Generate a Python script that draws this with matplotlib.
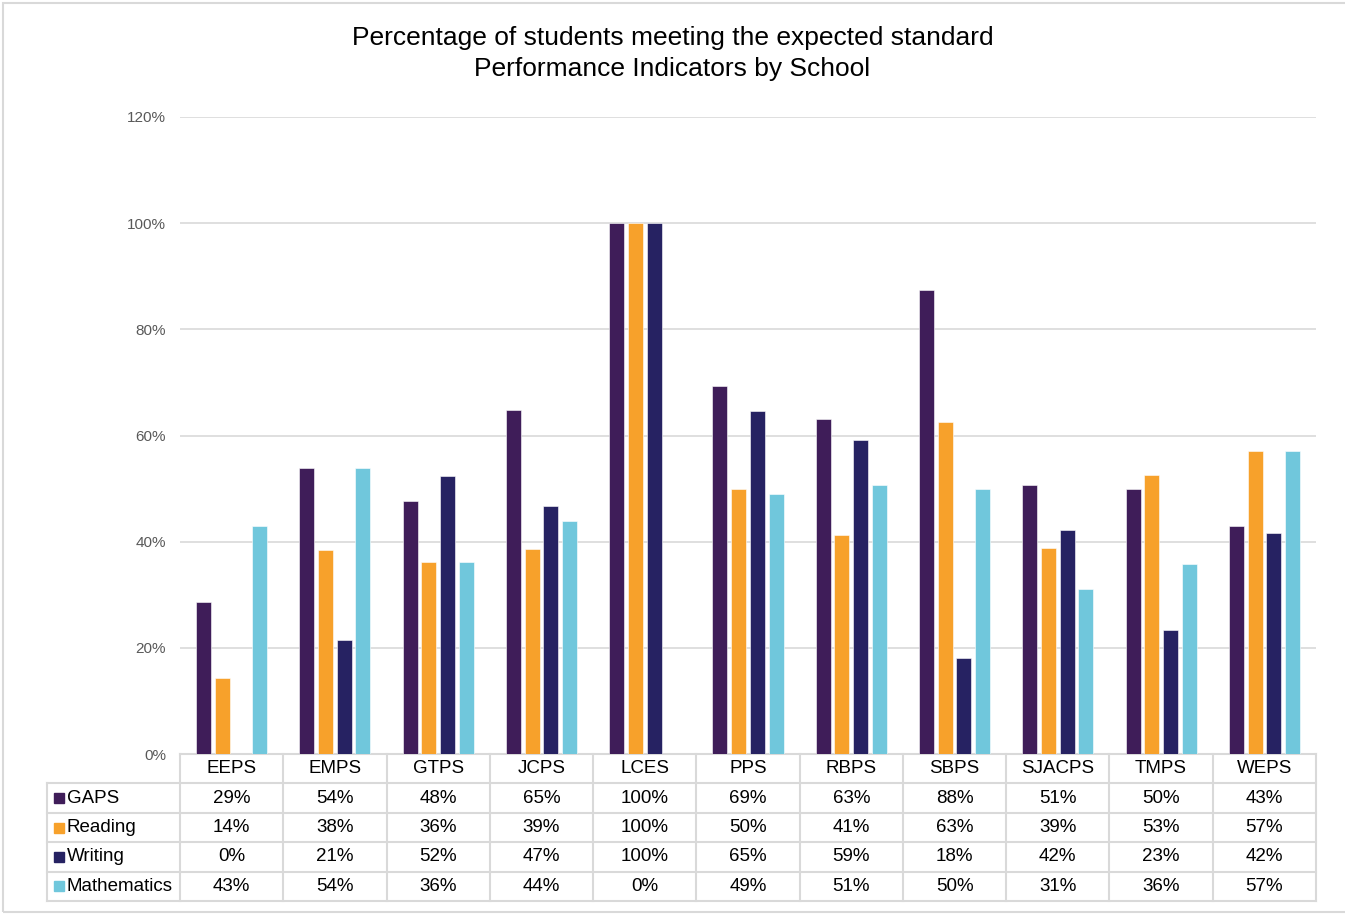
import numpy as np
import matplotlib
matplotlib.use('Agg')
import matplotlib.pyplot as plt
from matplotlib.patches import Rectangle

plt.rcParams['font.family'] = ['Liberation Sans', 'DejaVu Sans']

# Datos.
schools = ['EEPS', 'EMPS', 'GTPS', 'JCPS', 'LCES', 'PPS', 'RBPS', 'SBPS',
           'SJACPS', 'TMPS', 'WEPS']
series = ['GAPS', 'Reading', 'Writing', 'Mathematics']
gaps = [28.6, 53.8, 47.6, 64.8, 100, 69.3, 63.1, 87.5, 50.6, 50.0, 42.9]
reading = [14.3, 38.5, 36.2, 38.6, 100, 50.0, 41.3, 62.6, 38.9, 52.6, 57.1]
writing = [0, 21.4, 52.4, 46.7, 100, 64.7, 59.2, 18.1, 42.2, 23.3, 41.7]
maths = [42.9, 53.8, 36.2, 43.9, 0, 48.9, 50.6, 50.0, 31.1, 35.8, 57.1]
colours = ['#3F1D59', '#F7A12B', '#262262', '#70C7DC']
yticks = [0, 20, 40, 60, 80, 100, 120]

values = [gaps, reading, writing, maths]
grid_col = '#D9D9D9'

fig = plt.figure(figsize=(13.45, 9.14), dpi=100)
ax = fig.add_axes([180 / 1345, 1 - 754 / 914, 1136 / 1345, 637 / 914])

x = np.arange(len(schools))
pitch = 0.181
width = 0.145
for k, (vals, c) in enumerate(zip(values, colours)):
    ax.bar(x + (k - 1.5) * pitch, vals, width, color=c,
           edgecolor='white', linewidth=0.4, zorder=3)

ax.set_xlim(-0.5, len(schools) - 0.5)
ax.set_ylim(0, 120)
ax.set_yticks(yticks)
ax.set_yticklabels([f'{v}%' for v in yticks], fontsize=11, color='#595959')
ax.tick_params(axis='y', length=0, pad=10)
ax.set_xticks([])
ax.grid(axis='y', color=grid_col, linewidth=1.2, zorder=0)
for s in ['top', 'right', 'left']:
    ax.spines[s].set_visible(False)
ax.spines['bottom'].set_color(grid_col)
ax.spines['bottom'].set_linewidth(1.5)

# Tabla de datos dibujada a mano bajo el eje.
tr = ax.get_xaxis_transform()
row_h = 29.4 / 637
n_rows = len(series) + 1
y_bottom = -n_rows * row_h
label_left = -0.5 - 133 / (1136 / len(schools))
right = len(schools) - 0.5

kw = dict(transform=tr, clip_on=False, color=grid_col, linewidth=1.5)
for j in range(len(schools) + 1):
    ax.plot([j - 0.5, j - 0.5], [0, y_bottom], **kw)
ax.plot([label_left, label_left], [-row_h, y_bottom], **kw)
for r in range(1, n_rows + 1):
    ax.plot([label_left, right], [-r * row_h, -r * row_h], **kw)

for j, s in enumerate(schools):
    ax.text(j, -0.5 * row_h, s, transform=tr, ha='center', va='center',
            fontsize=13.5, color='black')

sq_w = 10 / (1136 / len(schools))
for r, (name, vals, c) in enumerate(zip(series, values, colours)):
    yc = -(r + 1.5) * row_h
    ax.add_patch(Rectangle((label_left + 7 / 103.3, yc - 5 / 637), sq_w,
                           10 / 637, transform=tr, clip_on=False,
                           color=c))
    ax.text(label_left + 20 / 103.3, yc, name, transform=tr, ha='left',
            va='center', fontsize=13.5, color='black')
    for j, v in enumerate(vals):
        ax.text(j, yc, f'{v:.0f}%', transform=tr, ha='center', va='center',
                fontsize=13.5, color='black')

fig.text(0.5, 1 - 38 / 914,
         'Percentage of students meeting the expected standard',
         ha='center', va='center', fontsize=19)
fig.text(0.5, 1 - 69 / 914, 'Performance Indicators by School',
         ha='center', va='center', fontsize=19)

fig.patches.append(Rectangle((0.002, 0.002), 1.5, 0.995,
                             transform=fig.transFigure, fill=False,
                             edgecolor=grid_col, linewidth=1.5))

fig.savefig('out.png', dpi=100)
